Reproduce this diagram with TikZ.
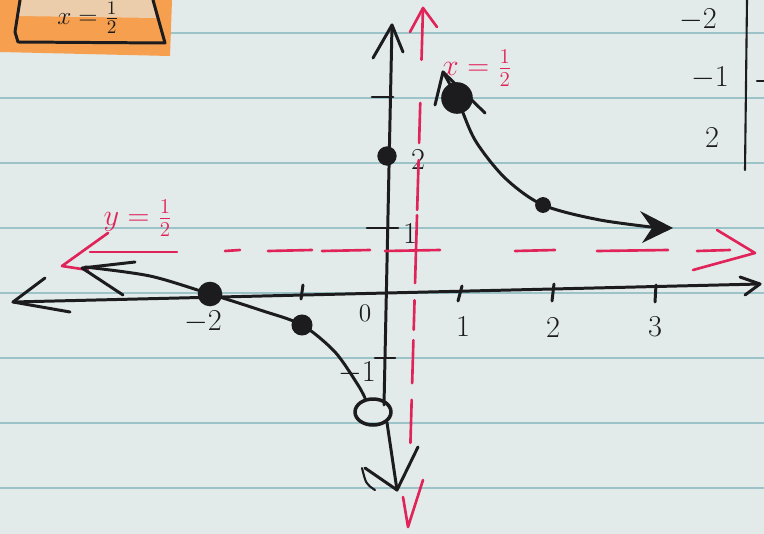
\documentclass[tikz,border=0pt]{standalone}
\usepackage{tikz}
\usepackage{xcolor}
\usetikzlibrary{positioning,calc,shapes.geometric}

\definecolor{paper}{HTML}{E3EAEA}
\definecolor{rule}{HTML}{9CC3C8}
\definecolor{ink}{HTML}{1C1C1E}
\definecolor{redink}{HTML}{E0245A}
\definecolor{hilite}{HTML}{F6A04F}

\begin{document}
\begin{tikzpicture}[
    x=0.02cm, y=-0.02cm,
    pen/.style={draw=ink, line width=1.7pt, line cap=round, line join=round},
    redpen/.style={draw=redink, line width=1.5pt, line cap=round, line join=round},
    ruled/.style={draw=rule, line width=1pt},
    lbl/.style={text=ink, font=\fontsize{18}{20}\selectfont, inner sep=1pt},
    redlbl/.style={text=redink, font=\fontsize{18}{20}\selectfont, inner sep=1pt},
    dot/.style={circle, fill=ink, inner sep=0pt, minimum size=#1},
    dot/.default=6pt
]
\clip (0,0) rectangle (764,534);
\fill[paper] (0,0) rectangle (764,534);
\foreach \ry in {33,98,...,488}
    \draw[ruled] (0,\ry) -- (764,\ry);

% note box, top left
\fill[hilite] (0,0) -- (172,0) -- (170,56) -- (0,52) -- cycle;
\fill[paper!60!hilite] (22,0) -- (152,0) -- (156,18) -- (18,16) -- cycle;
\draw[pen] (20,0) -- (15,32) -- (18,42) -- (165,43) -- (153,0);
\node[lbl, font=\fontsize{15}{16}\selectfont] (boxtext) at (88,18) {$x=\frac{1}{2}$};

% table, top right
\node[lbl] (tabA) at (698,20) {$-2$};
\node[lbl] (tabB) at (710,78) {$-1$};
\node[lbl] (tabC) at (712,138) {$2$};
\draw[pen, line width=1.2pt] (747,0) -- (745,170);
\draw[pen, line width=1.2pt] (757,81) -- (764,81);

% axes
\coordinate (xl) at (13,302);
\coordinate (xr) at (760,284);
\coordinate (yt) at (392,25);
\coordinate (yb) at (384,405);
\draw[pen] (xl) -- (xr);
\draw[pen] (45,278) -- (xl) -- (70,312);
\draw[pen] (740,277) -- (xr) -- (745,295);
\draw[pen] (yb) -- (yt);
\draw[pen] (373,58) -- (yt) -- (403,52);

% ticks
\draw[pen] (372,97) -- (393,97);
\draw[pen] (367,228) -- (398,228);
\draw[pen] (375,358) -- (395,358);
\draw[pen] (303,285) -- (301,299);
\draw[pen] (462,286) -- (458,301);
\draw[pen] (554,284) -- (552,301);
\draw[pen] (656,285) -- (655,302);
\node[dot=11pt] (ytwo) at (387,156) {};

% tick labels
\node[lbl, font=\fontsize{14}{16}\selectfont] (lzero) at (365,313) {$0$};
\node[lbl] (lxone) at (463,327) {$1$};
\node[lbl] (lxtwo) at (553,328) {$2$};
\node[lbl] (lxthree) at (655,327) {$3$};
\node[lbl] (lxmtwo) at (203,322) {$-2$};
\node[lbl] (lytwo) at (418,160) {$2$};
\node[lbl] (lyone) at (410,234) {$1$};
\node[lbl] (lymone) at (357,373) {$-1$};

% asymptotes
\coordinate (vt) at (423,8);
\coordinate (vb) at (408,527);
\foreach \a/\b in {0/0.10, 0.183/0.26, 0.293/0.389, 0.399/0.53, 0.563/0.62, 0.64/0.723, 0.755/0.838}
    \draw[redpen] ($(vt)!\a!(vb)$) -- ($(vt)!\b!(vb)$);
\draw[redpen] (410,32) -- (vt) -- (437,27);
\draw[redpen] (403,497) -- (vb) -- (423,480);
\node[redlbl] (vlabel) at (477,68) {$x=\frac{1}{2}$};

\coordinate (hl) at (62,266);
\coordinate (hr) at (755,253);
\draw[redpen] (90,252) -- (177,252);
\draw[redpen] (108,233) -- (hl) -- (88,270);
\foreach \a/\b in {225/240, 268/312, 322/370, 385/440, 515/555, 597/668, 697/730}
    \draw[redpen] (\a,251) -- (\b,250);
\draw[redpen] (717,230) -- (hr) -- (693,270);
\node[redlbl] (hlabel) at (138,218) {$y=\frac{1}{2}$};

% right branch
\node[dot=18pt] (pone) at (457,98) {};
\node[dot=9pt] (ptwo) at (543,205) {};
\draw[pen] plot[smooth] coordinates {(443,72) (457,98) (475,140) (505,178) (543,205) (600,220) (668,229)};
\draw[pen] (435,105) -- (443,72) -- (485,113);
\fill[ink] (673,228) -- (640,211) -- (652,228) -- (642,243) -- cycle;

% left branch
\node[dot=14pt] (pmtwo) at (210,294) {};
\node[dot=12pt] (pmone) at (302,325) {};
\node[pen, line width=2pt, ellipse, minimum width=0.72cm, minimum height=0.52cm, inner sep=0pt] (hole) at (373,412) {};
\draw[pen] plot[smooth] coordinates {(85,267) (150,276) (210,294) (260,310) (302,325) (335,352) (358,385) (365,398)};
\draw[pen] (135,262) -- (82,268) -- (123,295);
\draw[pen] (hole.south east) -- (397,490);
\draw[pen] (365,468) -- (397,490) -- (418,447);
\draw[pen, line width=1.2pt] (362,468) .. controls (366,484) .. (375,490);
\end{tikzpicture}
\end{document}
